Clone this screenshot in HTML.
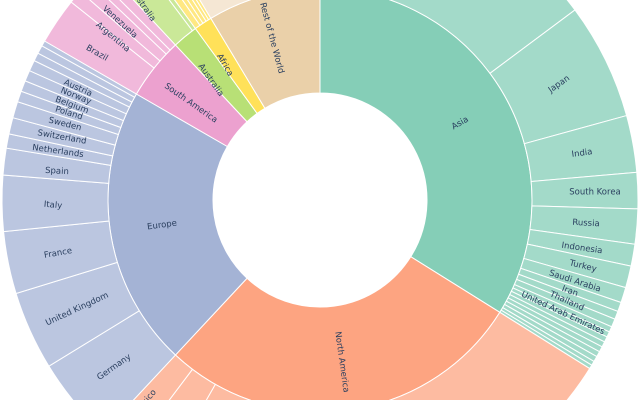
<!DOCTYPE html>
<html><head><meta charset="utf-8"><style>
html,body{margin:0;padding:0;background:#fff;width:640px;height:400px;overflow:hidden;}
#w{width:640px;height:400px;overflow:hidden;position:relative;}
svg{display:block;overflow:hidden;font-family:"DejaVu Sans","Liberation Sans",sans-serif;}
text{font-size:8.5px;fill:#2a3f5f;text-anchor:middle;dominant-baseline:middle;}
</style></head><body>
<div id="w"><svg id="s" width="640" height="400" viewBox="0 0 640 400"></svg></div>
<script>
const cx=320,cy=200,r0=107,r1=212,r2=318;
const C={as:"102,194,165",na:"252,141,98",eu:"141,160,203",sa:"231,138,195",au:"166,216,84",af:"255,217,47",rw:"229,196,148"};
function pt(r,a){const t=a*Math.PI/180;return [cx+r*Math.sin(t),cy-r*Math.cos(t)];}
function arc(ri,ro,a0,a1){const l=(a1-a0)>180?1:0;const p1=pt(ro,a0),p2=pt(ro,a1),p3=pt(ri,a1),p4=pt(ri,a0);
return `M${p1[0]},${p1[1]}A${ro},${ro} 0 ${l} 1 ${p2[0]},${p2[1]}L${p3[0]},${p3[1]}A${ri},${ri} 0 ${l} 0 ${p4[0]},${p4[1]}Z`;}
let h='<clipPath id="c"><rect x="0" y="0" width="640" height="400"/></clipPath><g clip-path="url(#c)">';
function seg(ri,ro,a0,a1,c,op){h+=`<path d="${arc(ri,ro,a0,a1)}" fill="rgba(${c},${op})" stroke="#fff" stroke-width="1"/>`;}
const inner=[[0,122,"as"],[122,223,"na"],[223,300,"eu"],[300,317,"sa"],[317,324,"au"],[324,329,"af"],[329,360,"rw"]];
inner.forEach(d=>seg(r0,r1,d[0],d[1],C[d[2]],0.8));
function outer(bs,c,op){for(let i=0;i<bs.length-1;i++)seg(r1,r2,bs[i],bs[i+1],C[c],op||0.6);}
outer([0,53.3,74.6,85,91.6,98,102,106,108.8,110.5,112,113.5,114.5,115.5,116.5,117.5,118.5,119.5,120.5,121.3,122],"as");
outer([122,209.6,217,223],"na");
outer([223,238.5,252.9,264.3,274.5,279.4,282,285,288,290,292,294,296,297.5,299,300],"eu");
outer([300,308.5,311,313.5,315,317],"sa");
outer([317,323,324],"au");
outer([324,325.5,326.5,327.5,328.3,329],"af");
outer([329,360],"rw",0.4);
const L=[["Asia",460,123,-30],["Japan",559,84,-35],["India",582,153,-8],["South Korea",595,192,0],["Russia",586,223,3],
["Indonesia",582,248,8],["Turkey",583,266,14],["Saudi Arabia",575,281,18],["Iran",570,291,20],["Thailand",567,301,24],
["United Arab Emirates",563,313,25],["North America",342,362,82],["Europe",162,225,-8],["Germany",114,367,-35],
["United Kingdom",77,309,-25],["France",58,253,-10],["Italy",53,205,5],["Spain",57,171,3],["Netherlands",58,151,8],
["Switzerland",62,137,10],["Sweden",65,124,14],["Poland",69,113,17],["Belgium",72,105,20],["Norway",76,96,22],
["Austria",78,88,24],["South America",191,103,35],["Brazil",97,53,30],["Argentina",113,37,40],["Venezuela",120,22,42],
["Australia",211,80,55],["Australia",143,5,55],["Africa",225,65,60],["Rest of the World",272,38,75],["Mexico",145,402,-50]];
L.forEach(l=>{h+=`<text transform="translate(${l[1]},${l[2]}) rotate(${l[3]})">${l[0]}</text>`;});
h+='</g>';
document.getElementById("s").innerHTML=h;
</script>
</body></html>
